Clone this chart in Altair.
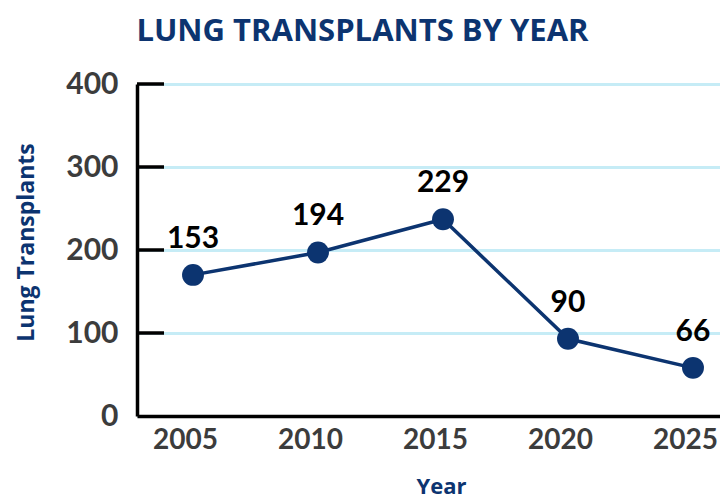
import altair as alt
import pandas as pd

years = [2005, 2010, 2015, 2020, 2025]
plotted = [170, 197, 237, 93, 58]
labels = ["153", "194", "229", "90", "66"]
tick_vals = [100, 200, 300, 400]

df = pd.DataFrame({"Year": years, "Value": plotted, "Label": labels})
ticks = pd.DataFrame({"v": tick_vals})

NAVY = "#0c3470"
GRAY = "#3c3c3c"

x = alt.X("Year:Q", scale=alt.Scale(domain=[2002.76, 2026.08], nice=False, zero=False),
          axis=alt.Axis(values=years, format="d", title="Year", grid=False, ticks=False,
                        tickSize=0, domainColor="black", domainWidth=3.5,
                        labelFont="Lato", labelFontSize=28, labelFontWeight="bold",
                        labelColor=GRAY, labelPadding=10, labelOffset=-8,
                        titleFont="Open Sans", titleFontSize=22, titleFontWeight="bold",
                        titleColor=NAVY, titleX=304, titleY=77, titleBaseline="alphabetic",
                        titleAlign="center"))
y = alt.Y("Value:Q", scale=alt.Scale(domain=[0, 400], nice=False),
          axis=alt.Axis(values=[0, 100, 200, 300, 400], title="Lung Transplants",
                        grid=True, gridColor="#c6ecf6", gridWidth=3,
                        ticks=False, tickSize=0, domainColor="black", domainWidth=3.5,
                        labelFont="Lato", labelFontSize=30, labelFontWeight="bold",
                        labelColor=GRAY, labelPadding=19,
                        titleFont="Open Sans", titleFontSize=23, titleFontWeight="bold",
                        titleColor=NAVY, titleX=-111, titleY=158, titleAngle=270,
                        titleBaseline="middle", titleAlign="center"))

line = alt.Chart(df).mark_line(color=NAVY, strokeWidth=3.5).encode(x=x, y=y)
pts = alt.Chart(df).mark_point(filled=True, color=NAVY, size=480, opacity=1).encode(x=x, y=y)
txt = alt.Chart(df).mark_text(font="Lato", fontSize=30, fontWeight="bold", color="black",
                              dy=-36, baseline="middle").encode(x=x, y=y, text="Label:N")
tk = alt.Chart(ticks).mark_rule(color="black", strokeWidth=3.5).encode(
    x=alt.value(0), x2=alt.value(27), y=alt.Y("v:Q"))

chart = alt.layer(line, tk, pts, txt).properties(
    width=583, height=332,
    autosize=alt.AutoSizeParams(type="none"),
    padding={"left": 129, "top": 76, "right": 0, "bottom": 86},
    title=alt.TitleParams("LUNG TRANSPLANTS BY YEAR", font="Open Sans", fontSize=31,
                          fontWeight="bold", color=NAVY, anchor="middle", dx=-66,
                          offset=21),
).configure_view(stroke=None)

chart.save("out.html", embed_options={"renderer": "svg", "actions": False})
